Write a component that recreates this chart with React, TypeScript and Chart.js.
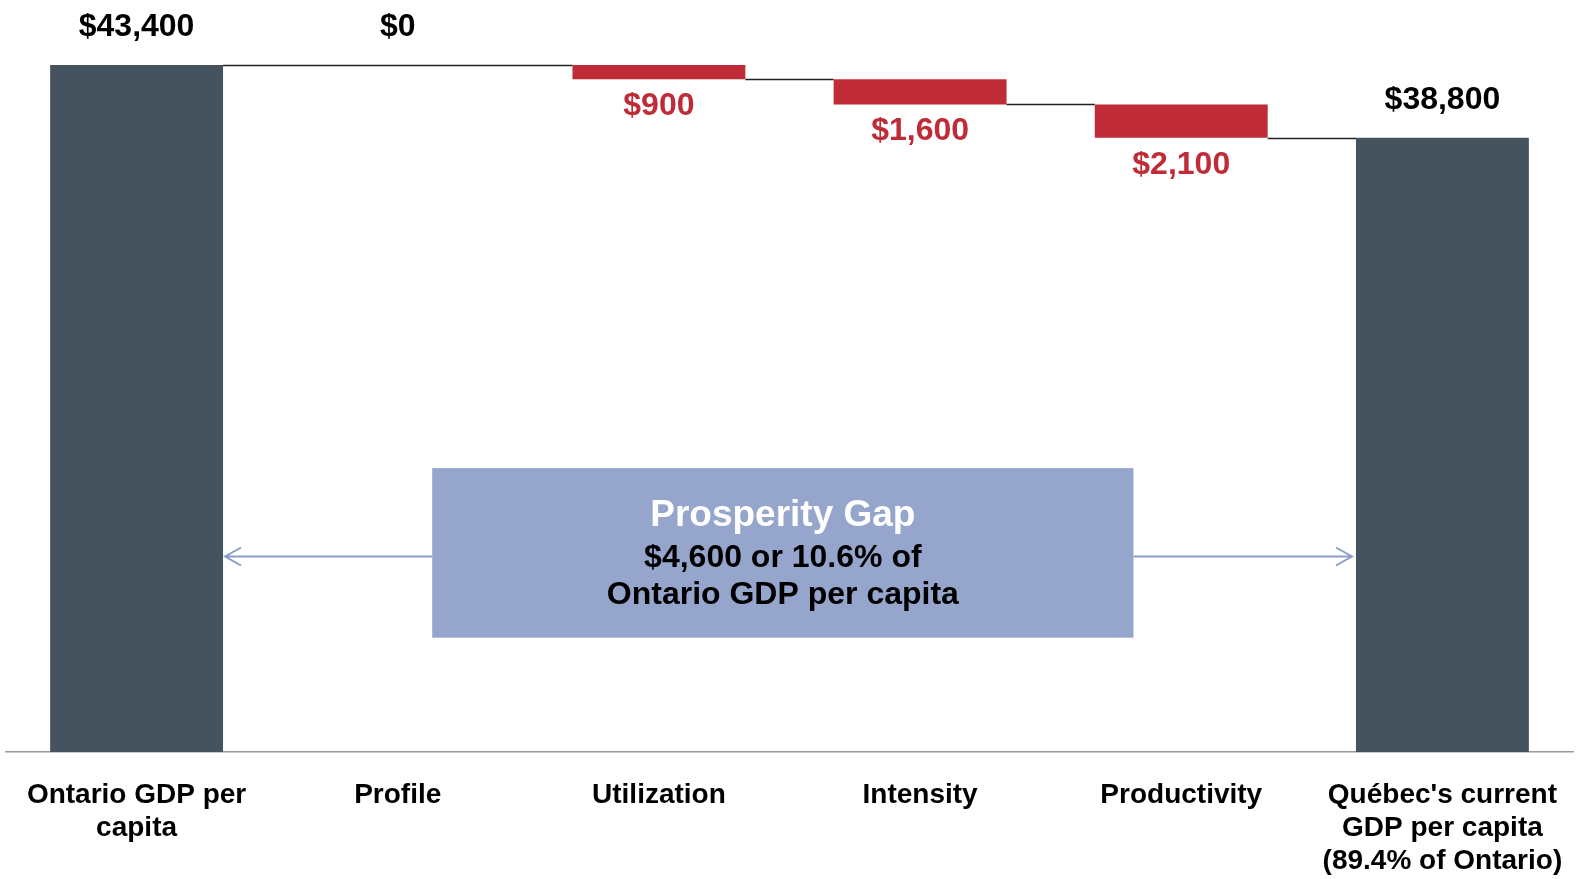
import React, { useEffect, useRef } from "react";
import { Chart, registerables } from "chart.js";

Chart.register(...registerables);

const categories: (string | string[])[] = [
  ["Ontario GDP per", "capita"],
  "Profile",
  "Utilization",
  "Intensity",
  "Productivity",
  ["Québec's current", "GDP per capita", "(89.4% of Ontario)"],
];
const startValue = 43400;
const changes = [0, -900, -1600, -2100];
const endValue = 38800;
const valueLabels = ["$43,400", "$0", "$900", "$1,600", "$2,100", "$38,800"];

const FONT = "'Liberation Sans', Arial, sans-serif";
const DARK = "#45535E";
const RED = "#BF2B37";
const BOX = "#95A5CC";
const ARROW = "#8C9DC9";

function buildRanges() {
  const ranges: [number, number][] = [[0, startValue]];
  const levels: number[] = [startValue];
  let level = startValue;
  for (const c of changes) {
    const next = level + c;
    ranges.push([Math.min(level, next), Math.max(level, next)]);
    level = next;
    levels.push(level);
  }
  ranges.push([0, endValue]);
  return { ranges, levels };
}

export default function App() {
  const ref = useRef<HTMLCanvasElement | null>(null);

  useEffect(() => {
    if (!ref.current) return;
    const { ranges, levels } = buildRanges();
    const isTotal = (i: number) => i === 0 || i === categories.length - 1;
    const colors = ranges.map((_, i) => (isTotal(i) ? DARK : RED));

    const plugin = {
      id: "waterfallExtras",
      beforeDatasetsDraw(chart: any) {
        const ctx = chart.ctx;
        const ys = chart.scales.y;
        const meta = chart.getDatasetMeta(0);
        ctx.save();
        ctx.strokeStyle = "#222";
        ctx.lineWidth = 1.3;
        for (let i = 0; i < levels.length; i++) {
          const y = Math.round(ys.getPixelForValue(levels[i])) + 0.5;
          const a = meta.data[i];
          const b = meta.data[i + 1];
          const zeroNext = ranges[i + 1][0] === ranges[i + 1][1];
          if (zeroNext) continue;
          let startX = a.x + a.width / 2;
          if (ranges[i][0] === ranges[i][1] && i > 0) {
            const p = meta.data[i - 1];
            startX = p.x + p.width / 2;
          }
          ctx.beginPath();
          ctx.moveTo(startX, y);
          ctx.lineTo(b.x - b.width / 2, y);
          ctx.stroke();
        }
        ctx.restore();
      },
      afterDatasetsDraw(chart: any) {
        const ctx = chart.ctx;
        const xs = chart.scales.x;
        const ys = chart.scales.y;
        const area = chart.chartArea;
        const meta = chart.getDatasetMeta(0);
        ctx.save();
        // value labels
        ctx.textAlign = "center";
        ctx.textBaseline = "middle";
        ctx.font = `bold 32px ${FONT}`;
        ranges.forEach((r, i) => {
          const x = xs.getPixelForValue(i);
          const neg = !isTotal(i) && changes[i - 1] < 0;
          if (neg) {
            ctx.fillStyle = RED;
            ctx.fillText(valueLabels[i], x, ys.getPixelForValue(r[0]) + 27);
          } else {
            ctx.fillStyle = "#000";
            ctx.fillText(valueLabels[i], x, ys.getPixelForValue(r[1]) - 38);
          }
        });

        // annotation box
        const w = area.right - area.left;
        const h = area.bottom - area.top;
        const bx1 = area.left + w * 0.272;
        const bx2 = area.left + w * 0.7195;
        const by1 = area.top + h * 0.6225;
        const by2 = area.top + h * 0.848;
        ctx.fillStyle = BOX;
        ctx.fillRect(bx1, by1, bx2 - bx1, by2 - by1);
        const cx = (bx1 + bx2) / 2;
        const cy = (by1 + by2) / 2;
        ctx.fillStyle = "#fff";
        ctx.font = `bold 37px ${FONT}`;
        ctx.fillText("Prosperity Gap", cx, cy - 37);
        ctx.fillStyle = "#000";
        ctx.font = `bold 32px ${FONT}`;
        ctx.fillText("$4,600 or 10.6% of", cx, cy + 5);
        ctx.fillText("Ontario GDP per capita", cx, cy + 42);

        // arrows
        const ay = Math.round(area.top + h * 0.739) + 0.5;
        const first = meta.data[0];
        const last = meta.data[meta.data.length - 1];
        const leftTip = first.x + first.width / 2 + 2;
        const rightTip = last.x - last.width / 2 - 4;
        ctx.strokeStyle = ARROW;
        ctx.lineWidth = 2;
        ctx.beginPath();
        ctx.moveTo(bx1, ay);
        ctx.lineTo(leftTip, ay);
        ctx.moveTo(leftTip + 16, ay - 9);
        ctx.lineTo(leftTip, ay);
        ctx.lineTo(leftTip + 16, ay + 9);
        ctx.moveTo(bx2, ay);
        ctx.lineTo(rightTip, ay);
        ctx.moveTo(rightTip - 16, ay - 9);
        ctx.lineTo(rightTip, ay);
        ctx.lineTo(rightTip - 16, ay + 9);
        ctx.stroke();
        ctx.restore();
      },
    };

    const chart = new Chart(ref.current, {
      type: "bar",
      data: {
        labels: categories,
        datasets: [
          {
            data: ranges as any,
            backgroundColor: colors,
            borderWidth: 0,
            barPercentage: 0.662,
            categoryPercentage: 1,
            borderSkipped: false,
          },
        ],
      },
      options: {
        responsive: false,
        animation: false,
        layout: { padding: { left: 6, right: 3, top: 0, bottom: 0 } },
        plugins: { legend: { display: false }, tooltip: { enabled: false } },
        scales: {
          y: { display: false, min: 0, max: 47500 },
          x: {
            grid: { display: false },
            border: { display: true, color: "#9a9a9a", width: 1.5 },
            ticks: {
              color: "#000",
              font: { family: FONT, size: 28, weight: "bold", lineHeight: 1.18 },
              padding: 19,
              maxRotation: 0,
              autoSkip: false,
            },
            afterFit(scale: any) {
              scale.height = 127;
              scale.paddingLeft = 0;
              scale.paddingRight = 0;
            },
          },
        },
      },
      plugins: [plugin],
    });
    return () => chart.destroy();
  }, []);

  return (
    <div style={{ position: "absolute", left: 0, top: 0, width: 1576, height: 879, background: "#fff" }}>
      <canvas ref={ref} width={1576} height={879} style={{ display: "block" }} />
    </div>
  );
}
